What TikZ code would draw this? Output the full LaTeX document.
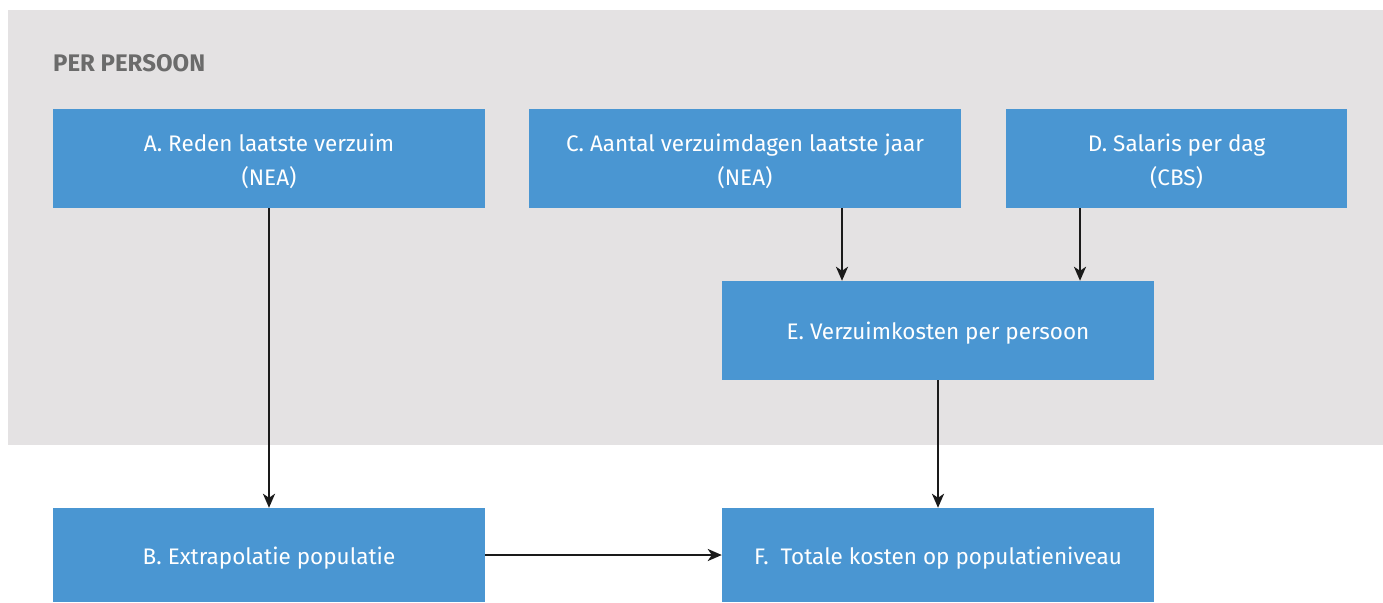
\documentclass[tikz,border=0pt]{standalone}
\usepackage{fontspec}
\setmainfont{Fira Sans}
\usetikzlibrary{arrows.meta}
\definecolor{boxblue}{HTML}{4A96D2}
\definecolor{panelgray}{HTML}{E4E2E3}
\definecolor{headgray}{HTML}{6B6B6B}
\definecolor{arrowblack}{HTML}{1A1A1A}
\begin{document}
\begin{tikzpicture}[x=1pt,y=-1pt,
  boxnode/.style={fill=boxblue,draw=none,inner sep=0pt},
  boxtext/.style={inner sep=0pt,text=white,align=center,yshift=-3pt,
    font=\fontsize{22.5}{34}\selectfont},
  conn/.style={draw=arrowblack,line width=2.5pt,-{Stealth[length=14pt,width=12pt,inset=4pt]}}]
\useasboundingbox (0,0) rectangle (1383,602);
\fill[white] (0,0) rectangle (1383,602);
\fill[panelgray] (8,10) rectangle (1383,445);
\node[anchor=west,inner sep=0pt,text=headgray,font=\fontsize{24}{26}\selectfont\bfseries] (head) at (53,63) {PER PERSOON};
\node[boxnode,minimum width=432pt,minimum height=99pt] (A) at (269,158.5) {};
\node[boxnode,minimum width=432pt,minimum height=99pt] (C) at (745,158.5) {};
\node[boxnode,minimum width=341pt,minimum height=99pt] (D) at (1176.5,158.5) {};
\node[boxnode,minimum width=432pt,minimum height=99pt] (E) at (938,330.5) {};
\node[boxnode,minimum width=432pt,minimum height=94pt] (B) at (269,555) {};
\node[boxnode,minimum width=432pt,minimum height=94pt] (F) at (938,555) {};
\node[boxtext] (At) at (A.center) {A. Reden laatste verzuim\\(NEA)};
\node[boxtext] (Ct) at (C.center) {C. Aantal verzuimdagen laatste jaar\\(NEA)};
\node[boxtext] (Dt) at (D.center) {D. Salaris per dag\\(CBS)};
\node[boxtext] (Et) at (E.center) {E. Verzuimkosten per persoon};
\node[boxtext] (Bt) at (B.center) {B. Extrapolatie populatie};
\node[boxtext] (Ft) at (F.center) {F.\ \ Totale kosten op populatieniveau};
\draw[conn] (A.south) -- (B.north);
\draw[conn] (C.south -| 842,0) -- (E.north -| 842,0);
\draw[conn] (D.south -| 1080,0) -- (E.north -| 1080,0);
\draw[conn] (E.south) -- (F.north);
\draw[conn] (B.east) -- (F.west);
\end{tikzpicture}
\end{document}
